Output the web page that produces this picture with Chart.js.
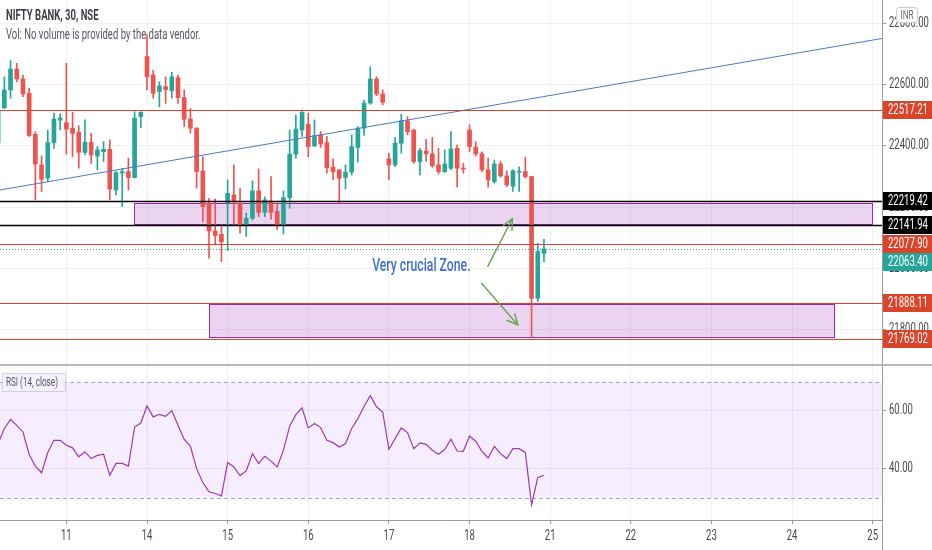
<!DOCTYPE html>
<html>
<head>
<meta charset="utf-8">
<script src="https://cdn.jsdelivr.net/npm/chart.js@4.4.1/dist/chart.umd.min.js"></script>
<style>
  html, body { margin: 0; padding: 0; background: #fff; }
  #wrap { width: 932px; height: 550px; }
</style>
</head>
<body>
<div id="wrap"><canvas id="myChart" width="932" height="550"></canvas></div>
<script>
var ctx, chart;

// NIFTY BANK 30 min bars, one entry per bar
var opens = [22410, 22525, 22583, 22651, 22619, 22572, 22438, 22338, 22295, 22411,
  22484, 22476, 22458, 22445, 22379, 22412, 22367, 22381, 22389, 22256,
  22311, 22316, 22297, 22496, 22692, 22632, 22578, 22594, 22580, 22623,
  22558, 22488, 22458, 22318, 22213, 22122, 22111, 22215, 22240, 22213,
  22142, 22164, 22253, 22183, 22220, 22186, 22140, 22231, 22373, 22452,
  22471, 22400, 22436, 22411, 22331, 22322, 22297, 22314, 22395, 22458,
  22540, 22619, 22570, 22358, 22338, 22409, 22482, 22452, 22349, 22384,
  22374, 22338, 22316, 22327, 22392, 22328, 22452, 22396, 22374, 22322,
  22283, 22341, 22302, 22269, 22314, 22316, 22300, 21902, 22049];
var highs = [22530, 22626, 22679, 22670, 22632, 22589, 22447, 22367, 22452, 22507,
  22505, 22670, 22510, 22466, 22485, 22441, 22398, 22414, 22420, 22316,
  22327, 22360, 22512, 22512, 22763, 22648, 22610, 22626, 22641, 22632,
  22583, 22523, 22460, 22365, 22229, 22227, 22136, 22289, 22338, 22262,
  22180, 22286, 22325, 22234, 22300, 22213, 22253, 22452, 22501, 22518,
  22507, 22485, 22447, 22431, 22358, 22322, 22338, 22436, 22463, 22550,
  22659, 22626, 22583, 22376, 22427, 22504, 22496, 22455, 22392, 22422,
  22428, 22392, 22387, 22447, 22403, 22343, 22469, 22414, 22381, 22360,
  22354, 22349, 22319, 22322, 22332, 22363, 22300, 22082, 22095];
var lows = [22400, 22522, 22556, 22610, 22561, 22431, 22224, 22251, 22283, 22392,
  22452, 22373, 22365, 22327, 22371, 22343, 22322, 22349, 22224, 22240,
  22202, 22256, 22295, 22460, 22583, 22556, 22528, 22539, 22556, 22539,
  22463, 22442, 22262, 22153, 22033, 22079, 22022, 22058, 22142, 22115,
  22104, 22158, 22169, 22169, 22161, 22126, 22112, 22196, 22360, 22431,
  22365, 22398, 22395, 22311, 22289, 22213, 22259, 22305, 22347, 22434,
  22536, 22564, 22534, 22289, 22332, 22376, 22436, 22343, 22305, 22349,
  22330, 22308, 22313, 22322, 22265, 22311, 22381, 22367, 22316, 22265,
  22278, 22298, 22267, 22251, 22251, 22295, 21775, 21891, 22022];
var closes = [22515, 22583, 22651, 22619, 22570, 22434, 22341, 22291, 22411, 22488,
  22491, 22455, 22441, 22379, 22412, 22371, 22387, 22389, 22259, 22313,
  22316, 22297, 22491, 22510, 22626, 22572, 22596, 22584, 22626, 22558,
  22487, 22458, 22316, 22202, 22122, 22107, 22087, 22245, 22218, 22140,
  22164, 22253, 22183, 22224, 22183, 22140, 22231, 22373, 22455, 22510,
  22398, 22434, 22406, 22329, 22316, 22294, 22314, 22398, 22458, 22540,
  22619, 22570, 22543, 22338, 22409, 22482, 22446, 22349, 22385, 22374,
  22335, 22316, 22341, 22390, 22327, 22324, 22398, 22374, 22322, 22289,
  22341, 22302, 22273, 22319, 22316, 22300, 21902, 22055, 22063.4];

// RSI (14, close)
var rsi = [48.7, 53.9, 57.0, 55.0, 52.7, 44.9, 40.9, 38.6, 45.6, 49.8,
  49.8, 48.1, 47.2, 44.1, 45.8, 43.5, 44.6, 45.0, 37.7, 41.8,
  41.8, 40.9, 54.4, 55.8, 61.7, 57.9, 58.8, 58.1, 60.1, 55.0,
  50.1, 47.7, 40.0, 35.2, 32.0, 31.4, 30.6, 42.1, 40.6, 37.6,
  39.2, 45.2, 41.8, 44.3, 42.6, 40.6, 46.4, 54.7, 58.7, 61.0,
  54.1, 55.6, 54.2, 49.8, 49.0, 47.5, 48.7, 53.9, 57.3, 61.6,
  65.2, 61.4, 59.6, 46.7, 50.4, 54.1, 52.5, 46.9, 48.9, 48.4,
  46.4, 45.0, 46.6, 50.2, 46.1, 46.0, 51.3, 49.5, 46.0, 43.7,
  47.7, 45.2, 43.5, 46.9, 46.9, 45.6, 27.5, 36.9, 37.7];

// time axis: day number and the bar where it sits
var dayLabels = ["11", "14", "15", "16", "17", "18", "21", "22", "23", "24", "25"];
var dayBars = [11, 24, 37, 50, 63, 76, 89, 102, 115, 128, 141];

var priceTicks = [21800, 22000, 22200, 22400, 22600, 22800];
var rsiTicks = [40, 60];

// horizontal levels drawn on the chart
var levelValues = [22517.21, 22219.42, 22141.94, 22077.90, 22063.40, 21888.11, 21769.02];
var levelColors = ["#d9442b", "#000000", "#000000", "#d9442b", "#26a69a", "#d9442b", "#d9442b"];

// boxes (bar range, price range)
var zoneFrom = [21.9, 34];
var zoneTo = [140.9, 134.8];
var zoneTop = [22212, 21884];
var zoneBottom = [22142, 21776];

// trend line
var trendBars = [0, 143];
var trendPrices = [22255, 22753];

// the screenshot is squeezed sideways, so all text gets the same squeeze
var FONT = "Roboto, 'DejaVu Sans', sans-serif";
var SQUEEZE = 0.68;
var UP = "#26a69a", DOWN = "#ef5350";

function barColor(i) {
  return closes[i] >= opens[i] ? UP : DOWN;
}

function squeezed(c, text, x, y, align) {
  c.save();
  c.translate(x, y);
  c.scale(SQUEEZE, 1);
  c.textAlign = align || "left";
  c.textBaseline = "middle";
  c.fillText(text, 0, 0);
  c.restore();
}

function drawArrow(c, x1, y1, x2, y2) {
  var a = Math.atan2(y2 - y1, x2 - x1);
  c.beginPath();
  c.moveTo(x1, y1);
  c.lineTo(x2, y2);
  c.moveTo(x2 - 12 * Math.cos(a - 0.45), y2 - 12 * Math.sin(a - 0.45));
  c.lineTo(x2, y2);
  c.lineTo(x2 - 12 * Math.cos(a + 0.45), y2 - 12 * Math.sin(a + 0.45));
  c.stroke();
}

var overlay = {
  id: "overlay",
  beforeDatasetsDraw(chart) {
    var c = chart.ctx, a = chart.chartArea;
    var x = chart.scales.x, y = chart.scales.y, r = chart.scales.y2;
    c.save();
    // rsi band
    var t = r.getPixelForValue(70), b = r.getPixelForValue(30);
    c.fillStyle = "rgba(153, 51, 255, 0.09)";
    c.fillRect(a.left, t, a.right - a.left, b - t);
    c.strokeStyle = "#a8a4b4";
    c.lineWidth = 1;
    c.setLineDash([4, 3]);
    c.beginPath();
    c.moveTo(a.left, Math.round(t) + 0.5); c.lineTo(a.right, Math.round(t) + 0.5);
    c.moveTo(a.left, Math.round(b) + 0.5); c.lineTo(a.right, Math.round(b) + 0.5);
    c.stroke();
    c.setLineDash([]);
    // zones
    for (var i = 0; i < zoneFrom.length; i++) {
      var x1 = x.getPixelForValue(zoneFrom[i]), x2 = x.getPixelForValue(zoneTo[i]);
      var y1 = y.getPixelForValue(zoneTop[i]), y2 = y.getPixelForValue(zoneBottom[i]);
      c.fillStyle = "rgba(156, 39, 176, 0.2)";
      c.fillRect(x1, y1, x2 - x1, y2 - y1);
      c.strokeStyle = "#9c27b0";
      c.lineWidth = 1;
      c.strokeRect(Math.round(x1) + 0.5, Math.round(y1) + 0.5, Math.round(x2 - x1), Math.round(y2 - y1));
    }
    c.restore();
  },
  afterDatasetsDraw(chart) {
    var c = chart.ctx, a = chart.chartArea;
    var x = chart.scales.x, y = chart.scales.y;
    c.save();
    for (var i = 0; i < levelValues.length; i++) {
      var py = Math.round(y.getPixelForValue(levelValues[i])) + 0.5;
      c.strokeStyle = levelColors[i];
      c.lineWidth = levelColors[i] == "#000000" ? 1.5 : 1;
      c.setLineDash(levelColors[i] == "#26a69a" ? [1, 2] : []);
      c.beginPath();
      c.moveTo(a.left, py);
      c.lineTo(a.right, py);
      c.stroke();
    }
    c.setLineDash([]);
    // note + arrows
    c.fillStyle = "#3f6fd1";
    c.font = "500 18px " + FONT;
    squeezed(c, "Very crucial Zone.", x.getPixelForValue(60.3), y.getPixelForValue(22006));
    c.strokeStyle = "#6fa556";
    c.lineWidth = 1.5;
    drawArrow(c, x.getPixelForValue(78.9), y.getPixelForValue(22005), x.getPixelForValue(82.9), y.getPixelForValue(22162));
    drawArrow(c, x.getPixelForValue(77.9), y.getPixelForValue(21952), x.getPixelForValue(83.8), y.getPixelForValue(21815));
    c.restore();
  },
  afterDraw(chart) {
    var c = chart.ctx, a = chart.chartArea;
    var x = chart.scales.x, y = chart.scales.y, r = chart.scales.y2;
    c.save();
    // pane separator
    var sep = Math.round(r.top);
    c.fillStyle = "#b4b6ba";
    c.fillRect(0, sep - 1, chart.width, 2);
    c.fillStyle = "#9a9a9a";
    c.fillRect(a.right, a.bottom, 1, chart.height - a.bottom);
    // axis labels from the scales' ticks
    c.fillStyle = "#4a4a4a";
    c.font = "14px " + FONT;
    y.ticks.forEach(function (t) {
      squeezed(c, t.value.toFixed(2), a.right + 7, y.getPixelForValue(t.value));
    });
    r.ticks.forEach(function (t) {
      squeezed(c, t.value.toFixed(2), a.right + 7, r.getPixelForValue(t.value));
    });
    x.ticks.forEach(function (t, i) {
      squeezed(c, dayLabels[i], x.getPixelForValue(t.value), a.bottom + 16, "center");
    });
    // legends
    c.fillStyle = "#3c3f48";
    c.font = "bold 14px " + FONT;
    squeezed(c, "NIFTY BANK, 30, NSE", 6, 16);
    c.fillStyle = "#555860";
    c.font = "14px " + FONT;
    squeezed(c, "Vol: No volume is provided by the data vendor.", 6, 35);
    c.fillStyle = "rgba(246, 240, 255, 0.95)";
    c.strokeStyle = "rgba(170, 170, 180, 0.45)";
    c.lineWidth = 1;
    c.fillRect(2.5, sep + 8.5, 63, 18);
    c.strokeRect(2.5, sep + 8.5, 63, 18);
    c.fillStyle = "#555860";
    c.font = "12px " + FONT;
    squeezed(c, "RSI (14, close)", 6, sep + 18);
    // price labels of the levels
    var items = levelValues.map(function (v, i) {
      return { v: v, col: levelColors[i], py: y.getPixelForValue(v) };
    }).sort(function (p, q) { return p.py - q.py; });
    var last = -100;
    c.font = "14px " + FONT;
    items.forEach(function (it) {
      var cy = Math.max(it.py, last + 18);
      last = cy;
      c.fillStyle = it.col;
      c.fillRect(a.right + 1, Math.round(cy - 9), chart.width - a.right - 1, 18);
      c.fillStyle = "#ffffff";
      squeezed(c, it.v.toFixed(2), a.right + 6, cy + 0.5);
    });
    // currency box
    c.fillStyle = "#ffffff";
    c.strokeStyle = "#c8cad0";
    c.beginPath();
    c.roundRect(896.5, 7.5, 21, 15, 3);
    c.fill();
    c.stroke();
    c.fillStyle = "#6a6d78";
    c.font = "12px " + FONT;
    squeezed(c, "INR", 907, 15.5, "center");
    c.restore();
  }
};

window.addEventListener("load", function () {
  var idx = opens.map(function (v, i) { return i; });
  ctx = document.getElementById("myChart");
  chart = new Chart(ctx, {
    type: "bar",
    data: {
      datasets: [
        {
          label: "wick",
          data: idx.map(function (i) { return { x: i, y: [lows[i], highs[i]] }; }),
          backgroundColor: idx.map(barColor),
          barThickness: 1,
          grouped: false,
          yAxisID: "y",
          order: 3,
        },
        {
          label: "body",
          data: idx.map(function (i) { return { x: i, y: [opens[i], closes[i]] }; }),
          backgroundColor: idx.map(barColor),
          barThickness: 4,
          minBarLength: 1,
          grouped: false,
          yAxisID: "y",
          order: 2,
        },
        {
          type: "line",
          label: "trend",
          data: trendBars.map(function (b, i) { return { x: b, y: trendPrices[i] }; }),
          borderColor: "#4a78d0",
          borderWidth: 1,
          pointRadius: 0,
          yAxisID: "y",
          order: 1,
        },
        {
          type: "line",
          label: "RSI",
          data: idx.map(function (i) { return { x: i, y: rsi[i] }; }),
          borderColor: "#9b3bb0",
          borderWidth: 1.2,
          pointRadius: 0,
          yAxisID: "y2",
          order: 0,
        },
      ],
    },
    plugins: [overlay],
    options: {
      responsive: false,
      animation: false,
      events: [],
      layout: { padding: 0 },
      plugins: { legend: { display: false }, tooltip: { enabled: false } },
      scales: {
        x: {
          type: "linear",
          offset: false,
          min: 0.3,
          max: 142.5,
          afterBuildTicks: function (s) { s.ticks = dayBars.map(function (v) { return { value: v }; }); },
          afterFit: function (s) { s.height = 30; },
          ticks: { display: false },
          grid: { offset: false, color: "#eff1f5", tickColor: "#9a9a9a", tickLength: 4 },
          border: { color: "#9a9a9a" },
        },
        y: {
          position: "right",
          stack: "pane",
          stackWeight: 365,
          min: 21684,
          max: 22877,
          afterBuildTicks: function (s) { s.ticks = priceTicks.map(function (v) { return { value: v }; }); },
          afterFit: function (s) { s.width = 50; },
          ticks: { display: false },
          grid: { color: "#eff1f5", tickColor: "#9a9a9a", tickLength: 4 },
          border: { color: "#9a9a9a" },
        },
        y2: {
          position: "right",
          stack: "pane",
          stackWeight: 155,
          min: 22.24,
          max: 75.86,
          afterBuildTicks: function (s) { s.ticks = rsiTicks.map(function (v) { return { value: v }; }); },
          afterFit: function (s) { s.width = 50; },
          ticks: { display: false },
          grid: { color: "#eff1f5", tickColor: "#9a9a9a", tickLength: 4 },
          border: { color: "#9a9a9a" },
        },
      },
    },
  });
});
</script>
</body>
</html>
